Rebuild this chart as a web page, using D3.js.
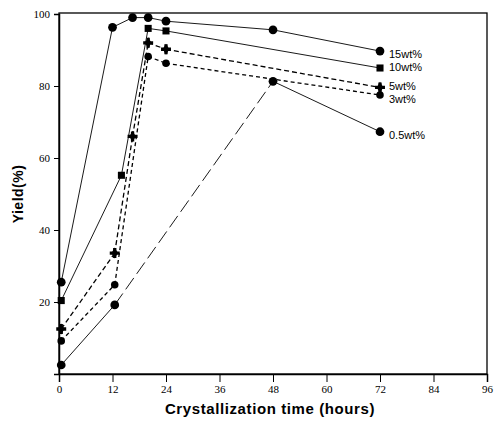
<!DOCTYPE html>
<html>
<head>
<meta charset="utf-8">
<script src="https://cdn.jsdelivr.net/npm/d3@7"></script>
<style>
  body { margin: 0; background: #fff; }
  svg { display: block; }
</style>
</head>
<body>
<div id="chart"></div>
<script>
const xTicks = [0, 12, 24, 36, 48, 60, 72, 84, 96];
const yTicks = [20, 40, 60, 80, 100];

const s15Time = [0.5, 12, 16.5, 20, 24, 48, 72];
const s15Yield = [25.5, 96.3, 99, 99, 98, 95.6, 89.7];
const s10Time = [0.5, 14, 20, 24, 72];
const s10Yield = [20.4, 55.2, 96, 95.3, 85];
const s5Time = [0.5, 12.5, 16.5, 20, 24, 72];
const s5Yield = [12.5, 33.6, 66, 92, 90.2, 79.6];
const s3Time = [0.5, 12.5, 20, 24, 72];
const s3Yield = [9.2, 24.8, 88.2, 86.3, 77.5];
const s05Time = [0.5, 12.5, 48, 72];
const s05Yield = [2.5, 19.2, 81.3, 67.3];

const seriesLabels = ["15wt%", "10wt%", "5wt%", "3wt%", "0.5wt%"];

const width = 494, height = 422;
const margin = { top: 13, right: 7, bottom: 48, left: 59 };

const svg = d3.select("#chart").append("svg")
  .attr("width", width).attr("height", height);

const x = d3.scaleLinear().domain([0, 96]).range([margin.left, width - margin.right]);
const y = d3.scaleLinear().domain([0, 100]).range([height - margin.bottom, margin.top + 1]);

// frame
svg.append("rect")
  .attr("x", x(0)).attr("y", y(100) - 1)
  .attr("width", x(96) - x(0)).attr("height", y(0) - y(100) + 1)
  .attr("fill", "none").attr("stroke", "#000").attr("stroke-width", 1.3);

const serif = "Liberation Serif, DejaVu Serif, serif";

svg.append("g")
  .attr("transform", `translate(0,${y(0)})`)
  .call(d3.axisBottom(x).tickValues(xTicks).tickSize(8).tickPadding(3))
  .attr("font-family", serif).attr("font-size", 11)
  .call(g => g.select(".domain").attr("stroke-width", 1.5));

svg.append("g")
  .attr("transform", `translate(${x(0)},0)`)
  .call(d3.axisLeft(y).tickValues(yTicks).tickSize(5).tickPadding(4))
  .attr("font-family", serif).attr("font-size", 11)
  .call(g => g.select(".domain").attr("stroke-width", 1.5));

svg.append("text")
  .attr("x", 270).attr("y", 414)
  .attr("text-anchor", "middle")
  .attr("font-family", "Liberation Sans, Arial, sans-serif")
  .attr("font-weight", "bold").attr("font-size", 15)
  .attr("letter-spacing", 0.6)
  .text("Crystallization time (hours)");

svg.append("text")
  .attr("transform", `translate(23,${y(50)}) rotate(-90)`)
  .attr("text-anchor", "middle")
  .attr("font-family", "Liberation Sans, Arial, sans-serif")
  .attr("font-weight", "bold").attr("font-size", 14)
  .attr("letter-spacing", 0.5)
  .text("Yield(%)");

const series = [
  { t: s15Time, v: s15Yield, sym: d3.symbolCircle, size: 60, dash: () => null },
  { t: s10Time, v: s10Yield, sym: d3.symbolSquare, size: 50, dash: () => null },
  { t: s5Time, v: s5Yield, sym: "star", size: 50, dash: () => "5,3" },
  { t: s3Time, v: s3Yield, sym: d3.symbolCircle, size: 45, dash: () => "4,3" },
  { t: s05Time, v: s05Yield, sym: d3.symbolCircle, size: 60, dash: i => i === 1 ? "14,5" : null }
];
const labelDy = [7, 3, 3, 8, 7];

series.forEach((s, k) => {
  const pts = s.t.map((t, i) => ({ t, v: s.v[i] }));
  const segs = d3.pairs(pts).map((p, i) => ({ a: p[0], b: p[1], i }));
  svg.append("g").selectAll("line")
    .data(segs).join("line")
    .attr("x1", d => x(d.a.t)).attr("y1", d => y(d.a.v))
    .attr("x2", d => x(d.b.t)).attr("y2", d => y(d.b.v))
    .attr("stroke", "#000")
    .attr("stroke-width", k >= 2 && k <= 3 ? 1.3 : 0.9)
    .attr("stroke-dasharray", d => s.dash(d.i));

  const g = svg.append("g").selectAll("g")
    .data(pts).join("g")
    .attr("transform", d => `translate(${x(d.t)},${y(d.v)})`);
  if (s.sym === "star") {
    g.append("path").attr("d", d3.symbol().type(d3.symbolDiamond).size(36)).attr("fill", "#000");
    g.append("path").attr("d", d3.symbol().type(d3.symbolCross).size(55)).attr("fill", "#000");
  } else {
    g.append("path").attr("d", d3.symbol().type(s.sym).size(s.size)).attr("fill", "#000");
  }

  const last = pts[pts.length - 1];
  svg.append("text")
    .attr("x", x(last.t) + 9).attr("y", y(last.v) + labelDy[k])
    .attr("font-family", "Liberation Sans Narrow, Liberation Sans, Arial, sans-serif")
    .attr("font-size", 11)
    .text(seriesLabels[k]);
});
</script>
</body>
</html>
